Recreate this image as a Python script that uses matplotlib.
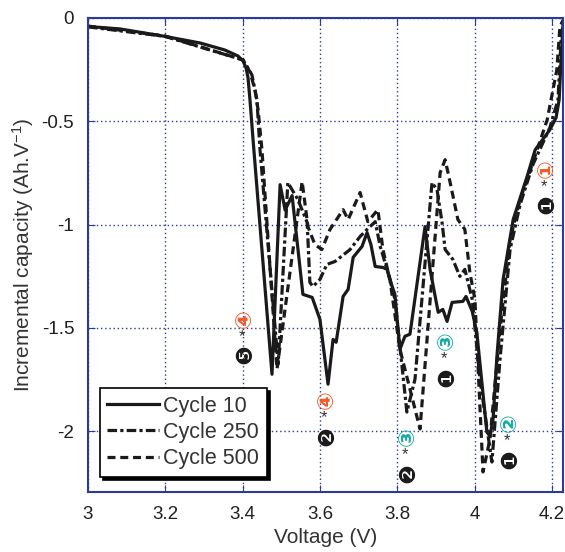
import matplotlib
matplotlib.use("Agg")
import matplotlib.pyplot as plt

plt.rcParams['font.family'] = ['Liberation Sans', 'DejaVu Sans']
plt.rcParams['mathtext.default'] = 'regular'

# Зарядні криві dQ/dV для трьох циклів
v10 = [3.000, 3.083, 3.199, 3.290, 3.354, 3.388, 3.401, 3.409, 3.414, 3.419, 3.427,
       3.476, 3.497, 3.510, 3.528, 3.556, 3.580, 3.600, 3.621, 3.634, 3.642, 3.660,
       3.673, 3.686, 3.709, 3.722, 3.732, 3.743, 3.763, 3.774, 3.787, 3.794, 3.807,
       3.820, 3.833, 3.872, 3.885, 3.906, 3.918, 3.929, 3.942, 3.970, 3.978, 3.994,
       4.006, 4.032, 4.040, 4.048, 4.058, 4.074, 4.100, 4.136, 4.157, 4.195, 4.211,
       4.219, 4.224, 4.229]
q10 = [-0.041, -0.053, -0.089, -0.121, -0.155, -0.184, -0.208, -0.242, -0.290, -0.396, -0.589,
       -1.725, -0.807, -0.93, -0.86, -1.338, -1.353, -1.459, -1.773, -1.556, -1.570, -1.348,
       -1.314, -1.159, -1.106, -1.039, -1.097, -1.203, -1.208, -1.217, -1.300, -1.338, -1.604,
       -1.541, -1.531, -1.010, -1.217, -1.425, -1.411, -1.469, -1.377, -1.372, -1.348, -1.42,
       -1.522, -2.005, -2.024, -1.942, -1.638, -1.266, -0.976, -0.768, -0.638, -0.541, -0.483,
       -0.396, -0.203, -0.034]

v250 = [3.000, 3.199, 3.401, 3.424, 3.437, 3.445, 3.492, 3.517, 3.543, 3.567, 3.574,
        3.582, 3.600, 3.618, 3.639, 3.678, 3.704, 3.722, 3.743, 3.756, 3.776, 3.794,
        3.825, 3.846, 3.890, 3.903, 3.916, 3.924, 3.944, 3.962, 3.975, 3.994, 4.014,
        4.045, 4.066, 4.092, 4.118, 4.151, 4.195, 4.216, 4.224, 4.229]
q250 = [-0.043, -0.089, -0.203, -0.275, -0.396, -0.638, -1.676, -0.797, -0.879, -0.990, -1.280,
        -1.300, -1.266, -1.193, -1.179, -1.121, -1.058, -1.024, -0.986, -1.106, -1.232, -1.362,
        -1.908, -1.749, -0.797, -0.831, -0.990, -1.121, -1.169, -1.251, -1.217, -1.362, -1.749,
        -2.150, -1.652, -1.121, -0.903, -0.710, -0.531, -0.396, -0.106, -0.034]

v500 = [3.000, 3.199, 3.401, 3.419, 3.432, 3.440, 3.450, 3.489, 3.554, 3.569, 3.587,
        3.605, 3.626, 3.660, 3.673, 3.704, 3.724, 3.750, 3.763, 3.781, 3.807, 3.859,
        3.911, 3.924, 3.937, 3.957, 3.975, 3.988, 4.001, 4.022, 4.040, 4.066, 4.092,
        4.118, 4.151, 4.188, 4.213, 4.221, 4.229]
q500 = [-0.039, -0.087, -0.203, -0.261, -0.348, -0.444, -0.638, -1.700, -0.792, -1.010, -1.097,
        -1.121, -1.024, -0.928, -0.976, -0.845, -0.986, -0.928, -1.121, -1.266, -1.604, -1.990,
        -0.749, -0.686, -0.797, -0.976, -1.024, -1.232, -1.362, -2.198, -2.039, -1.507, -1.072,
        -0.879, -0.700, -0.493, -0.251, -0.043, -0.010]

# Позначки піків: (V, Q, номер у чорному колі, номер у кольоровому колі, колір)
peak_v = [4.188, 4.092, 3.929, 3.828, 3.618, 3.406]
peak_q = [-0.903, -2.135, -1.739, -2.203, -2.024, -1.628]
peak_black = ['❶', '❶', '❶', '❷', '❷', '❺']
peak_color = ['①', '②', '③', '③', '④', '④']
peak_c = ['#f05a28', '#1aa9a6', '#1aa9a6', '#1aa9a6', '#f05a28', '#f05a28']

blue = '#2b3a9e'

fig = plt.figure(figsize=(5.65, 5.52), dpi=100)
ax = fig.add_axes([0.1558, 0.1087, 0.840, 0.8587])

ax.plot(v10, q10, '-', color='#1a1a1a', lw=2.3, label='Cycle 10')
ax.plot(v250, q250, color='#1a1a1a', lw=2.3, ls=(0, (3, 1, 1, 1)), label='Cycle 250')
ax.plot(v500, q500, color='#1a1a1a', lw=2.3, ls=(0, (2.5, 1.5)), label='Cycle 500')

for x, y, b, c, col in zip(peak_v, peak_q, peak_black, peak_color, peak_c):
    ax.annotate(b, (x, y), ha='center', va='center', rotation=90,
                fontsize=16, color='#1a1a1a', family=['DejaVu Sans'])
    ax.annotate('*', (x, y), xytext=(-2, 13), textcoords='offset points',
                ha='center', va='center', fontsize=12, color='#333333')
    ax.annotate(c, (x, y), xytext=(0, 26), textcoords='offset points',
                ha='center', va='center', rotation=90, fontsize=16,
                fontweight='bold', color=col, family=['DejaVu Sans'])

ax.set_xlim(3, 4.228)
ax.set_ylim(-2.295, 0)
ax.set_xticks([3, 3.2, 3.4, 3.6, 3.8, 4, 4.2])
ax.set_xticklabels(['3', '3.2', '3.4', '3.6', '3.8', '4', '4.2'])
ax.set_yticks([0, -0.5, -1, -1.5, -2])
ax.set_yticklabels(['0', '-0.5', '-1', '-1.5', '-2'])

ax.grid(True, color=blue, ls=(0, (1, 2)), lw=1)
for s in ax.spines.values():
    s.set_color(blue)
    s.set_linewidth(1.5)
ax.tick_params(direction='in', length=5, color=blue, labelsize=13.5,
               labelcolor='#231f20', top=True, right=True, pad=10)

ax.set_xlabel('Voltage (V)', fontsize=15, color='#333333', labelpad=4)
ax.set_ylabel('Incremental capacity (Ah.V$^{-1}$)', fontsize=15,
              color='#333333', labelpad=4)

leg = ax.legend(loc='lower left', bbox_to_anchor=(0.025, 0.032), borderaxespad=0,
                fontsize=15.5, frameon=True, fancybox=False, shadow={'color': 'black', 'alpha': 1},
                edgecolor='black', framealpha=1, handlelength=2.4, handletextpad=0.2,
                labelspacing=0.25, borderpad=0.35)
leg.get_frame().set_linewidth(1.2)
for t in leg.get_texts():
    t.set_color('#333333')

fig.savefig('out.png', dpi=100)
